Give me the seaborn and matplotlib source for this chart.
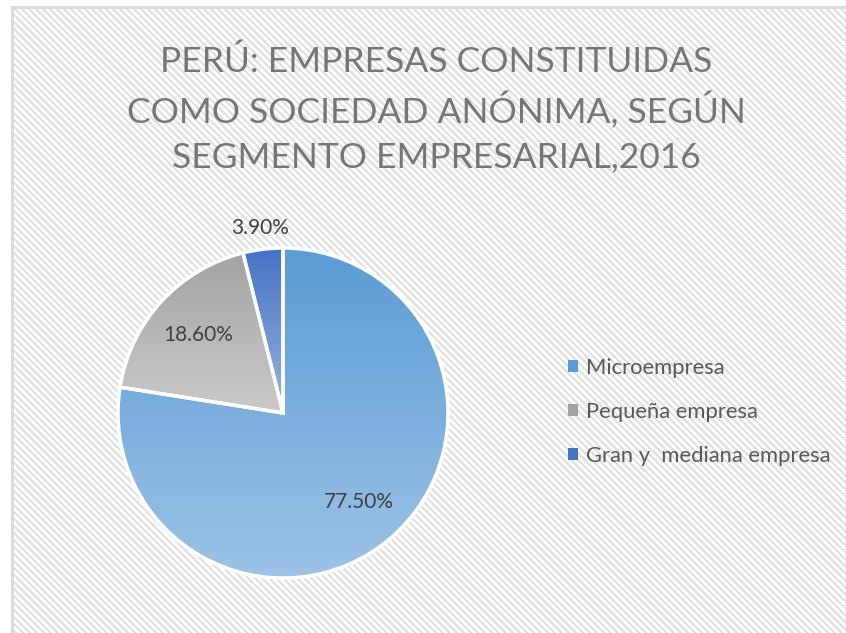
import numpy as np
import matplotlib
matplotlib.use("Agg")
import matplotlib.pyplot as plt
import seaborn as sns
from matplotlib.colors import LinearSegmentedColormap
from matplotlib.patches import Patch, Wedge

sns.set_theme(style="white")
plt.rcParams['font.family'] = ['Lato', 'DejaVu Sans']

categories = ["Microempresa", "Pequeña empresa", "Gran y  mediana empresa"]
values = [77.5, 18.6, 3.9]
title = "PERÚ: EMPRESAS CONSTITUIDAS\nCOMO SOCIEDAD ANÓNIMA, SEGÚN\nSEGMENTO EMPRESARIAL,2016"

top_colors = ["#5b9bd5", "#a3a3a3", "#4472c4"]
bottom_colors = ["#9dc3e6", "#cacaca", "#9bb3e0"]
label_dist = [0.71, 0.70, 1.13]

W, H = 846, 633
fig = plt.figure(figsize=(W / 100, H / 100), dpi=100)
fig.patch.set_facecolor("white")

# background pattern
bg = fig.add_axes([12 / W, 0, 1 - 12 / W, 1 - 7 / H])
h, w = H - 7, W - 12
rows, cols = np.mgrid[0:h, 0:w]
pat = ((cols - rows) % 7) < 3
img = np.where(pat, 0.88, 0.985)
bg.imshow(img, cmap="gray", vmin=0, vmax=1, aspect="auto", interpolation="nearest")
bg.set_xticks([]); bg.set_yticks([])
for k, s in bg.spines.items():
    if k in ("left", "top"):
        s.set_color("#d9d9d9"); s.set_linewidth(2)
    else:
        s.set_visible(False)

# title
fig.text(436 / W, 1 - 109 / H, title, ha="center", va="center", fontsize=25.5,
         color="#767676", linespacing=1.45)

# pie
cx, cy, r = 283, 413, 165
ax = fig.add_axes([(cx - r) / W, (H - cy - r) / H, 2 * r / W, 2 * r / H])
ax.patch.set_alpha(0)
wedges, _ = ax.pie(values, startangle=90, counterclock=False, radius=1,
                   colors=top_colors,
                   wedgeprops=dict(edgecolor="white", linewidth=2.5))
for wdg, ct, cb in zip(wedges, top_colors, bottom_colors):
    v = wdg.get_path().vertices
    y0, y1 = v[:, 1].min(), v[:, 1].max()
    cmap = LinearSegmentedColormap.from_list("g", [cb, ct])
    grad = np.linspace(0, 1, 256).reshape(-1, 1)
    im = ax.imshow(grad, cmap=cmap, extent=(-1, 1, y0, y1), origin="lower",
                   aspect="auto", zorder=wdg.get_zorder() + 0.1)
    im.set_clip_path(wdg)
    edge = Wedge(wdg.center, wdg.r, wdg.theta1, wdg.theta2,
                 facecolor="none", edgecolor="white",
                 linewidth=2.5, zorder=wdg.get_zorder() + 0.2)
    ax.add_patch(edge)
ax.set_xlim(-1, 1); ax.set_ylim(-1, 1)
ax.axis("off")

for wdg, val, d in zip(wedges, values, label_dist):
    ang = np.deg2rad((wdg.theta1 + wdg.theta2) / 2)
    ax.text(d * np.cos(ang), d * np.sin(ang), f"{val:.2f}%", ha="center", va="center",
            fontsize=15, color="#404040", zorder=10)

# legend
handles = [Patch(facecolor=c, edgecolor="none") for c in top_colors]
leg = fig.legend(handles, categories, loc="center left",
                 bbox_to_anchor=(548 / W, 1 - 412 / H), frameon=False,
                 fontsize=15.8, labelcolor="#595959", handlelength=0.45,
                 handleheight=0.45, handletextpad=0.4, labelspacing=1.1)

fig.savefig("out.png", dpi=100)
